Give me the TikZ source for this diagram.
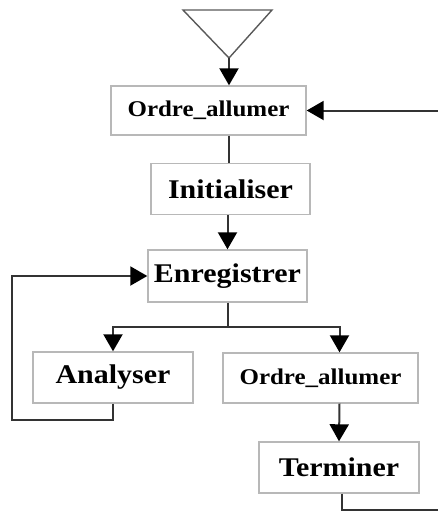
\documentclass[tikz,border=0pt]{standalone}
\usepackage{fontspec}
\usepackage{graphicx}
\setmainfont{Liberation Serif}
\usetikzlibrary{arrows.meta}

\tikzset{
  stepbox/.style={draw=black!28, line width=1.4pt, fill=white, rectangle,
    inner sep=0pt, font=\bfseries},
  link/.style={draw=black!80, line width=2pt},
  arr/.style={link, -{Triangle[width=19pt,length=17pt,color=black]}},
  bigtext/.style={font=\bfseries\fontsize{27}{30}\selectfont},
  smalltext/.style={font=\bfseries\fontsize{22.5}{26}\selectfont}
}
\newcommand{\wide}[1]{\scalebox{1.11}[1]{#1}}

\begin{document}
\begin{tikzpicture}[x=1pt, y=-1pt]
  \useasboundingbox (0,0) rectangle (438,512);

  % start symbol
  \coordinate (apex) at (229,58);
  \draw[draw=black!65, line width=1.4pt] (183,10) -- (272,10) -- (apex) -- cycle;

  % activity boxes
  \node[stepbox, smalltext, minimum width=195pt, minimum height=49pt] (o1) at (208.5,110.5) {\wide{Ordre\_allumer}};
  \node[stepbox, bigtext, minimum width=159pt, minimum height=51pt] (init) at (230.5,189) {\wide{Initialiser}};
  \node[stepbox, bigtext, minimum width=159pt, minimum height=52pt] (enr) at (227.5,276) {\wide{Enregistrer}};
  \node[stepbox, bigtext, minimum width=160pt, minimum height=51pt] (ana) at (113,377.5) {\wide{Analyser}};
  \node[stepbox, smalltext, minimum width=195pt, minimum height=50pt] (o2) at (320.5,378) {\wide{Ordre\_allumer}};
  \node[stepbox, bigtext, minimum width=160pt, minimum height=51pt] (term) at (339,467.5) {\wide{Terminer}};

  % helper points for the routing
  \coordinate (split) at (227.5,327);
  \coordinate (rcol) at (339.5,0);
  \coordinate (lb) at (12,420);
  \coordinate (rb) at (438.5,510);

  % main flow
  \draw[arr] (apex) -- (apex |- o1.north);
  \draw[link] (apex |- o1.south) -- (apex |- init.north);
  \draw[arr] (enr.north |- init.south) -- (enr.north);
  \draw[link] (enr.south) -- (split);
  \draw[arr] (split) -| (ana.north);
  \draw[arr] (split) -| (rcol |- o2.north);
  \draw[arr] (rcol |- o2.south) -- (term.north);

  % loops
  \draw[arr] (ana.south) |- (lb) |- (enr.west);
  \draw[arr] ([xshift=3pt]term.south) |- (rb) |- (o1.east);
\end{tikzpicture}
\end{document}
